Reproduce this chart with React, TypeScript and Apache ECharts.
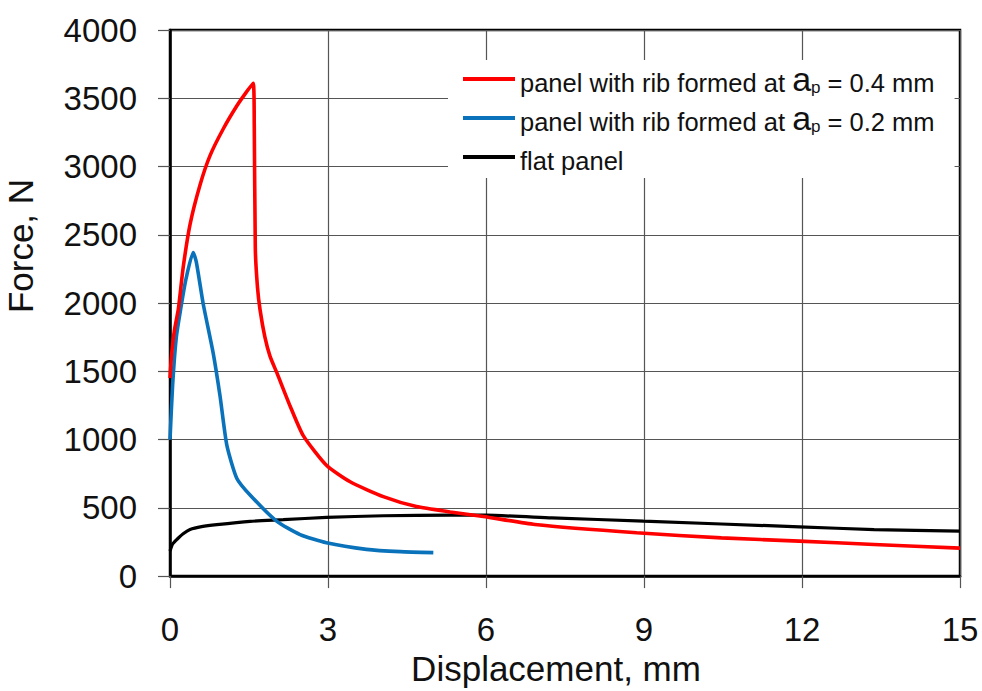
import React, { useEffect, useRef } from "react";
import * as echarts from "echarts";

const xTicks = [0, 3, 6, 9, 12, 15];
const yTicks = [0, 500, 1000, 1500, 2000, 2500, 3000, 3500, 4000];

const seriesNames = [
  "panel with rib formed at ap = 0.4 mm",
  "panel with rib formed at ap = 0.2 mm",
  "flat panel",
];

const legendPrefix = ["panel with rib formed at ", "panel with rib formed at ", "flat panel"];
const legendSuffix = [" = 0.4 mm", " = 0.2 mm", ""];

const rib04: [number, number][] = [
  [0, 1450], [0.03, 1620], [0.08, 1790], [0.16, 1960], [0.25, 2260], [0.38, 2575],
  [0.57, 2865], [0.76, 3080], [1.01, 3275], [1.27, 3445], [1.45, 3545], [1.58, 3610],
  [1.6, 3300], [1.62, 2400], [1.66, 2120], [1.71, 1950], [1.8, 1754], [1.9, 1609],
  [2.03, 1488], [2.28, 1246], [2.53, 1029], [2.97, 812], [3.42, 691], [4.05, 582],
  [4.68, 509], [5.32, 470], [5.95, 437], [6.93, 378], [8.86, 317], [10.47, 280],
  [11.95, 256], [13.37, 232], [15, 205],
];

const rib02: [number, number][] = [
  [0, 1000], [0.05, 1400], [0.12, 1750], [0.2, 1950], [0.3, 2170], [0.44, 2370],
  [0.5, 2300], [0.63, 1995], [0.82, 1633], [0.95, 1319], [1.08, 957], [1.27, 715],
  [1.52, 594], [2.03, 401], [2.47, 304], [2.97, 244], [3.73, 196], [4.37, 179], [5.0, 172],
];

const flat: [number, number][] = [
  [0, 184], [0.05, 235], [0.13, 268], [0.25, 310], [0.38, 341], [0.6, 362], [0.89, 377],
  [1.52, 401], [2.15, 413], [2.97, 430], [4.05, 442], [5.32, 447], [6.0, 446],
  [7.25, 427], [8.99, 402], [11.95, 361], [13.37, 341], [15, 329],
];

const colors = ["#ff0000", "#0a72ba", "#000000"];
const FONT = "'Liberation Sans', Arial, sans-serif";

export default function App() {
  const ref = useRef<HTMLDivElement>(null);
  useEffect(() => {
    if (!ref.current) return;
    const chart = echarts.init(ref.current, null, { renderer: "svg" });
    const datasets = [rib04, rib02, flat];
    chart.setOption({
      animation: false,
      backgroundColor: "#ffffff",
      textStyle: { fontFamily: FONT },
      grid: {
        left: 170,
        right: 22,
        top: 30,
        bottom: 109,
        show: true,
        borderColor: "#000",
        borderWidth: 2.5,
        backgroundColor: "transparent",
      },
      legend: {
        orient: "vertical",
        left: 448,
        top: 60,
        backgroundColor: "#ffffff",
        padding: [2, 20, 4, 15],
        itemWidth: 52,
        itemHeight: 4,
        itemGap: 5,
        icon: "rect",
        data: seriesNames,
        formatter: (name: string) => {
          const i = seriesNames.indexOf(name);
          if (i === 2) return "{t|" + legendPrefix[i] + "}{a| }";
          return "{t|" + legendPrefix[i] + "}{a|a}{s|p}{t|" + legendSuffix[i] + "}";
        },
        textStyle: {
          color: "#111",
          fontFamily: FONT,
          lineHeight: 34,
          rich: {
            t: { fontSize: 25.5, lineHeight: 25, verticalAlign: "bottom", color: "#111", fontFamily: FONT },
            a: { fontSize: 34, lineHeight: 34, verticalAlign: "bottom", color: "#111", fontFamily: FONT },
            s: { fontSize: 17, lineHeight: 10, verticalAlign: "bottom", color: "#111", fontFamily: FONT },
          },
        },
      },
      xAxis: {
        type: "value",
        min: xTicks[0],
        max: xTicks[xTicks.length - 1],
        interval: 3,
        name: "Displacement, mm",
        nameLocation: "middle",
        nameGap: 56,
        nameTextStyle: { fontSize: 35, color: "#111", fontFamily: FONT, padding: [0, 18, 0, 0] },
        axisLine: { show: true, lineStyle: { color: "#000", width: 2.5 } },
        axisTick: { show: true, length: 12, lineStyle: { color: "#555", width: 1.2 } },
        axisLabel: { fontSize: 33, color: "#111", margin: 37, fontFamily: FONT, formatter: (v: number) => String(v) },
        splitLine: { show: true, lineStyle: { color: "#555", width: 1.2 } },
      },
      yAxis: {
        type: "value",
        min: yTicks[0],
        max: yTicks[yTicks.length - 1],
        interval: 500,
        axisLine: { show: true, lineStyle: { color: "#000", width: 2.5 } },
        axisTick: { show: true, length: 12, lineStyle: { color: "#555", width: 1.2 } },
        axisLabel: { fontSize: 33, color: "#111", margin: 33, fontFamily: FONT, formatter: (v: number) => String(v) },
        splitLine: { show: true, lineStyle: { color: "#555", width: 1.2 } },
      },
      graphic: [
        {
          type: "text",
          x: 20,
          y: 246,
          rotation: Math.PI / 2,
          style: {
            text: "Force, N",
            fontSize: 35,
            fontFamily: FONT,
            fill: "#111",
            textAlign: "center",
            textVerticalAlign: "middle",
          },
        },
      ],
      series: datasets.map((d, i) => ({
        name: seriesNames[i],
        type: "line",
        data: d,
        showSymbol: false,
        symbol: "none",
        smooth: 0.2,
        z: 3 - i,
        lineStyle: { color: colors[i], width: i === 2 ? 3.2 : 3.6 },
        itemStyle: { color: colors[i] },
      })),
    });
    return () => chart.dispose();
  }, []);
  return (
    <div
      ref={ref}
      style={{ position: "absolute", left: 0, top: 0, width: 982, height: 691 }}
    />
  );
}
